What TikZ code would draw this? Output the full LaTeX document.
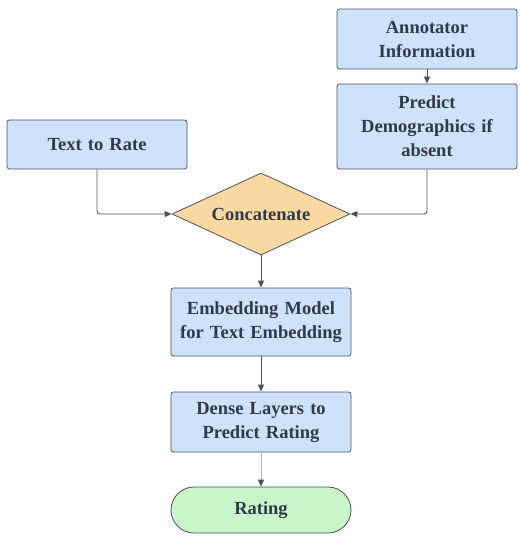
\documentclass[tikz,border=0pt]{standalone}
\usepackage{xcolor}
\usepackage{fontspec}
\setmainfont{Liberation Serif}
\usepackage{tikz}
\usetikzlibrary{shapes.geometric}
\usetikzlibrary{arrows.meta}

\definecolor{boxblue}{HTML}{CFE2FC}
\definecolor{boxorange}{HTML}{FDD9A2}
\definecolor{boxgreen}{HTML}{C9F5C9}
\definecolor{edgegray}{HTML}{4A5160}
\definecolor{txtgray}{HTML}{2F3A4C}
\definecolor{lightline}{HTML}{B8B8B8}

\tikzset{
    labeltext/.style = {font=\bfseries\fontsize{18.5}{24}\selectfont, text=txtgray, align=center},
    stepbox/.style = {labeltext, draw=edgegray, fill=boxblue, line width=0.8pt,
        rounded corners=2.5pt, minimum width=180pt, text width=176pt, inner sep=2pt},
    joinbox/.style = {labeltext, draw=edgegray, fill=boxorange, line width=0.8pt,
        diamond, aspect=2.17, minimum width=178pt, minimum height=82pt, inner sep=0pt},
    endbox/.style = {labeltext, draw=edgegray, fill=boxgreen, line width=0.8pt,
        rounded corners=23pt, minimum width=180pt, minimum height=46pt},
    flow/.style = {draw=edgegray, line width=0.9pt, rounded corners=3pt,
        -{Triangle[length=7pt, width=6pt, color=edgegray]}}
}

\begin{document}
\begin{tikzpicture}[x=1pt, y=-1pt]
        \useasboundingbox (0, 0) rectangle (522, 539);

        % input side
        \node[stepbox, minimum height=60pt] (anno) at (427, 39)
            {Annotator\\Information};
        \node[stepbox, minimum height=85pt] (demo) at (427, 126.5)
            {Predict\\Demographics if\\absent};
        \node[stepbox, minimum height=49pt] (text) at (97, 144.5)
            {Text to Rate};

        % merge and model
        \node[joinbox] (concat) at (261, 214) {Concatenate};
        \node[stepbox, minimum height=68pt] (embed) at (261, 322)
            {Embedding Model\\for Text Embedding};
        \node[stepbox, minimum height=60pt] (dense) at (261, 422)
            {Dense Layers to\\Predict Rating};
        \node[endbox] (rating) at (261, 510) {Rating};

        % connectors
        \draw[flow] (anno) -- (demo);
        \draw[flow] (text.south) |- (concat.west);
        \draw[flow] (demo.south) |- (concat.east);
        \draw[flow] (concat) -- (embed);
        \draw[flow] (embed) -- (dense);
        \draw[flow, draw=lightline] (dense) -- (rating);
\end{tikzpicture}
\end{document}
